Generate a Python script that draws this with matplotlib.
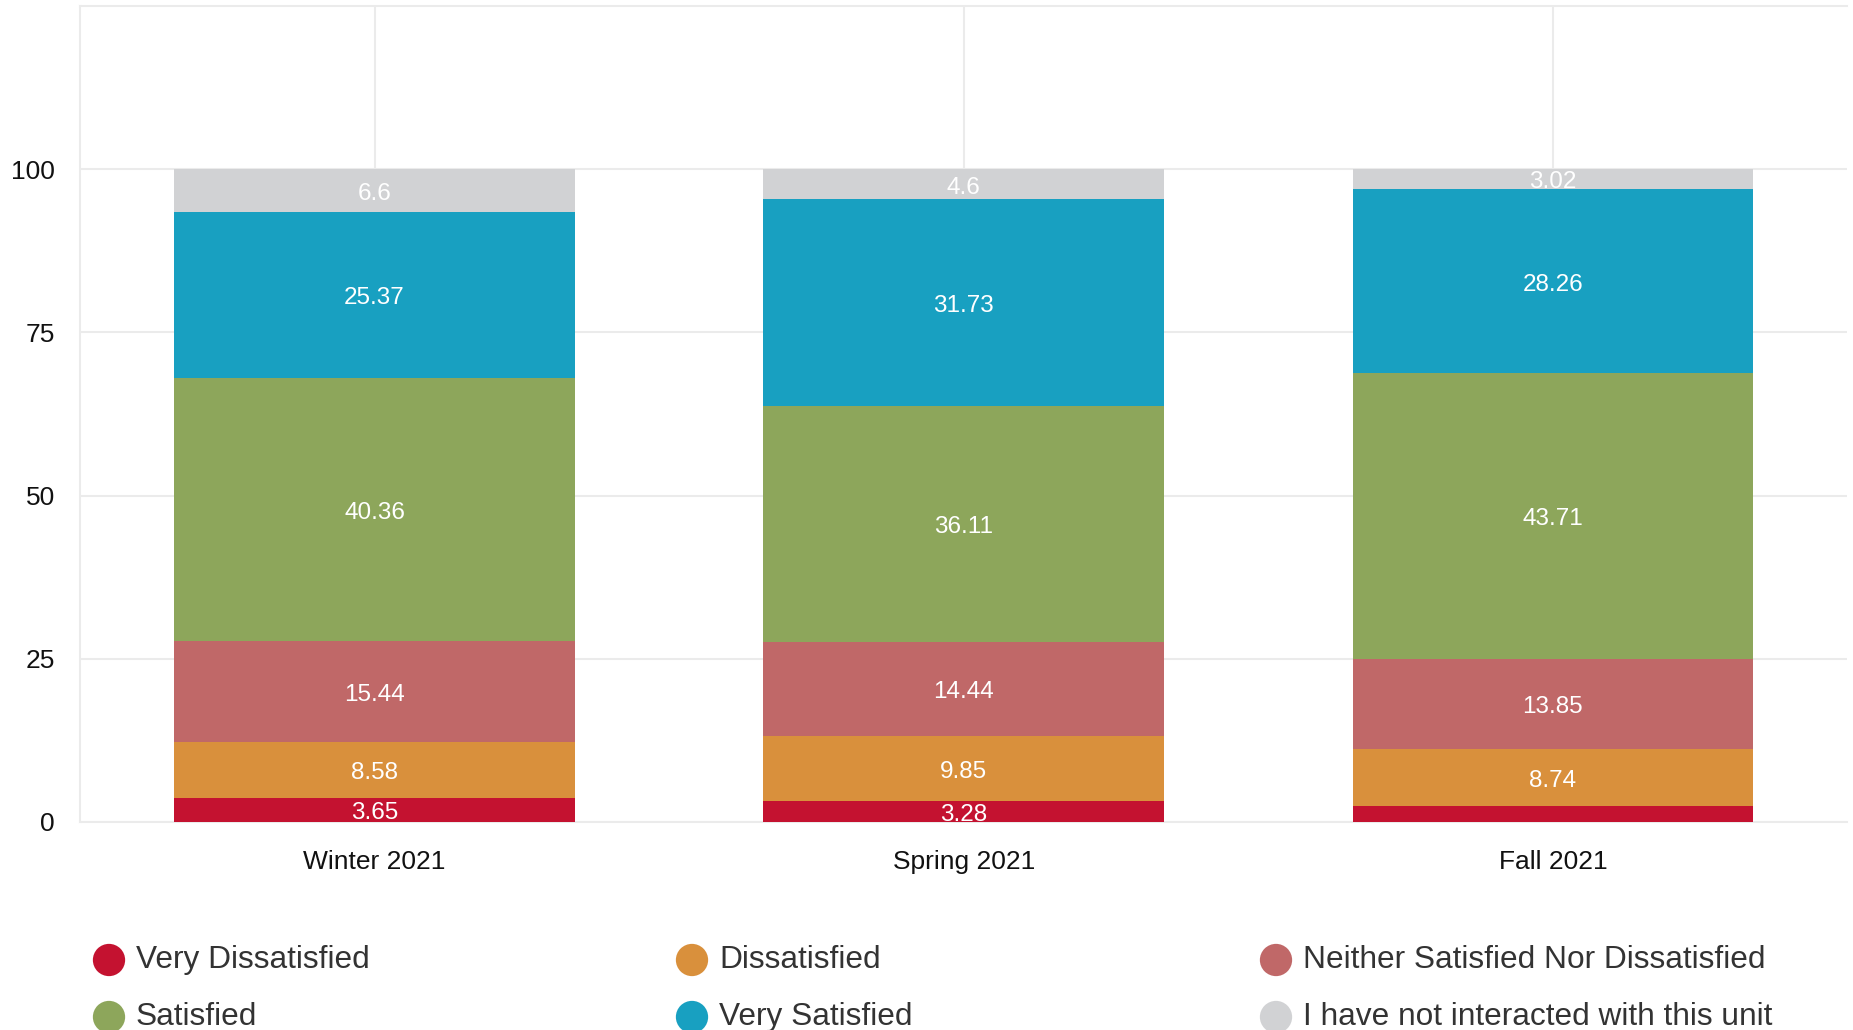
import matplotlib
matplotlib.use("Agg")
import matplotlib.pyplot as plt
import numpy as np

plt.rcParams["font.family"] = ["Liberation Sans", "DejaVu Sans"]

# ── Data ──────────────────────────────────────────────
terms = ["Winter 2021", "Spring 2021", "Fall 2021"]
categories = ["Very Dissatisfied", "Dissatisfied",
              "Neither Satisfied Nor Dissatisfied", "Satisfied",
              "Very Satisfied", "I have not interacted with this unit"]
very_dissatisfied = [3.65, 3.28, 2.42]
dissatisfied = [8.58, 9.85, 8.74]
neither = [15.44, 14.44, 13.85]
satisfied = [40.36, 36.11, 43.71]
very_satisfied = [25.37, 31.73, 28.26]
not_interacted = [6.6, 4.6, 3.02]
colors = ["#C41230", "#D9903C", "#C06868", "#8DA65B", "#18A0C1", "#D1D2D4"]

series = [very_dissatisfied, dissatisfied, neither,
          satisfied, very_satisfied, not_interacted]

# ── Plot ──────────────────────────────────────────────
fig = plt.figure(figsize=(18.53, 10.30), dpi=100)
ax = fig.add_axes([0.0432, 0.202, 0.9538, 0.792])

x = np.arange(len(terms))
bottom = np.zeros(len(terms))
for vals, col in zip(series, colors):
    vals = np.array(vals)
    ax.bar(x, vals, bottom=bottom, width=0.68, color=col, zorder=3)
    for xi, b, v in zip(x, bottom, vals):
        if v >= 2.5:
            ax.text(xi, b + v / 2 - 0.5, f"{v:g}", ha="center",
                    va="center", color="white", fontsize=17.5, zorder=4)
    bottom += vals

ax.set_xlim(-0.5, 2.5)
ax.set_ylim(0, 125)
ax.set_yticks([0, 25, 50, 75, 100])
ax.set_xticks(x)
ax.set_xticklabels(terms)
ax.tick_params(axis="both", length=0, labelsize=19, colors="#111111")
ax.tick_params(axis="x", pad=20)
ax.tick_params(axis="y", pad=18)
ax.grid(True, color="#EBEBEB", linewidth=1.5, zorder=0)
for side, sp in ax.spines.items():
    sp.set_color("#EBEBEB")
    sp.set_linewidth(1.5)
ax.spines["right"].set_visible(False)

# ── Legend (drawn manually in 2 rows x 3 cols) ────────
lax = fig.add_axes([0, 0, 1, 1], facecolor="none")
lax.set_xlim(0, 1853)
lax.set_ylim(1030, 0)
lax.axis("off")
col_x = [109, 692, 1276]
row_y = [960, 1017]
for i, (name, col) in enumerate(zip(categories, colors)):
    cx = col_x[i % 3]
    cy = row_y[i // 3]
    lax.scatter([cx], [cy], s=540, color=col, edgecolors="none")
    lax.text(cx + 27, cy, name, ha="left", va="center",
             fontsize=22.8, color="#333333")

fig.savefig("out.png", dpi=100)
